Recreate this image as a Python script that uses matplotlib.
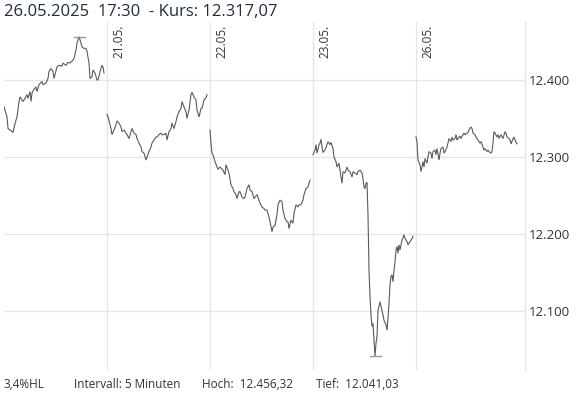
import matplotlib
matplotlib.use("Agg")
import matplotlib.pyplot as plt
import matplotlib.transforms as mtransforms
from matplotlib.ticker import FuncFormatter, FixedLocator

plt.rcParams['font.family'] = ['Open Sans', 'DejaVu Sans']

# ---------------- data ----------------
day_labels = ["20.05.", "21.05.", "22.05.", "23.05.", "26.05."]

idx_d1 = [0,3,4,6,9,10,12,13,15,16,19,21,23,24,26,27,28,30,32,33,35,38,39,42,44,45,47,49,50,53,
          55,58,59,62,64,66,69,70,72,73,75,77,78,80,82,83,85,86,88,89,91,93,94,96,98,99,100]
val_d1 = [12365,12352,12337,12335,12332,12338,12348,12352,12372,12378,
          12372,12376,12381,12376,12385,12372,12383,12388,12391,12385,
          12394,12398,12394,12396,12402,12411,12415,12411,12402,12417,
          12419,12418,12422,12419,12423,12422,12426,12428,12439,12448,
          12456.32,12448,12443,12441,12441,12437,12422,12402,12404,12413,
          12409,12400,12400,12411,12419,12417,12409]

idx_d2 = [0,1,3,4,5,7,9,10,12,14,15,17,19,20,22,24,25,27,29,30,32,34,35,37,39,40,42,44,45,47,
          49,50,52,54,55,57,59,60,62,64,65,67,69,70,72,74,75,77,79,80,82,84,85,87,89,90,92,94,95,97,
          99,100]
val_d2 = [12355.5,12352,12342,12337,12329,12335,12342,12347,12344,12339,
          12333,12335,12331,12329,12324,12333,12337,12331,12329,12324,
          12318,12313,12307,12305,12296,12300,12307,12313,12318,12322,
          12326,12326,12329,12331,12329,12329,12331,12322,12333,12337,
          12344,12337,12346,12352,12359,12363,12372,12365,12359,12350,
          12361,12381,12384,12378,12374,12361,12352,12363,12363,12374,
          12377,12381]

idx_d3 = [0,1,2,3,5,7,8,10,12,13,15,16,18,19,21,23,24,26,27,29,30,32,34,35,37,39,40,42,44,45,
          47,49,50,52,54,55,57,59,60,62,63,65,67,68,70,72,73,75,77,78,79,81,83,84,86,88,89,91,93,94,
          96,98,99,100]
val_d3 = [12335,12318,12305,12303,12294,12287,12284,12287,12284,12283,
          12277,12290,12283,12279,12264,12259,12255,12251,12246,12255,
          12255,12248,12246,12248,12259,12264,12257,12255,12246,12248,
          12251,12244,12240,12235,12233,12231,12231,12222,12216,12203,
          12209,12211,12225,12238,12244,12242,12231,12220,12216,12216,
          12207,12218,12214,12227,12238,12235,12238,12238,12244,12251,
          12259,12261,12266,12270]

idx_d4 = [0,2,3,4,6,7,8,9,10,12,14,15,17,18,20,21,23,24,26,28,29,30,32,34,35,37,39,40,42,44,
          45,47,49,50,51,52,53,54,55,56,57,58,59,60,61,62,63,64,65,66,67,68,70,71,73,74,75,76,77,78,
          79,80,81,82,83,84,85,86,87,88,89,91,92,94,95,97,99,100]
val_d4 = [12303,12309,12316,12305,12316,12318,12323,12313,12306,12309,
          12316,12320,12316,12319,12311,12300,12294,12287,12292,12274,
          12266,12281,12279,12287,12283,12281,12274,12281,12279,12277,
          12281,12283,12279,12272,12261,12259,12266,12267,12225,12153,
          12119,12095,12080,12084,12062,12041.03,12058,12067,12101,12106,
          12112,12106,12095,12088,12082,12075,12091,12110,12134,12145,
          12147,12138,12153,12164,12179,12184,12175,12186,12179,12186,
          12192,12199,12194,12190,12186,12190,12194,12197]

idx_d5 = [0,1,2,4,5,7,8,9,11,12,13,15,16,17,19,20,21,23,24,25,27,28,29,31,32,33,35,36,37,39,
          40,41,43,44,45,47,48,49,51,52,53,55,56,57,59,60,61,63,64,65,67,68,69,71,72,73,75,76,77,78,
          79,81,82,83,85,86,87,89,90,91,93,94,95,97,98,99,101]
val_d5 = [12326,12320,12296,12290,12281,12294,12287,12298,12292,12300,
          12307,12305,12298,12307,12309,12303,12311,12296,12305,12311,
          12313,12305,12307,12313,12318,12324,12320,12326,12322,12324,
          12329,12322,12326,12327,12324,12329,12331,12329,12331,12332,
          12335,12339,12337,12331,12329,12326,12324,12320,12318,12320,
          12313,12309,12311,12307,12309,12307,12305,12307,12318,12333,
          12331,12326,12329,12324,12329,12326,12324,12333,12331,12326,
          12324,12322,12317,12324,12326,12322,12317.07]

days_idx = [idx_d1, idx_d2, idx_d3, idx_d4, idx_d5]
days_val = [val_d1, val_d2, val_d3, val_d4, val_d5]

y_ticks = [12100, 12200, 12300, 12400]
title_text = "26.05.2025  17:30  - Kurs: 12.317,07"
footer = ["3,4%HL", "Intervall: 5 Minuten", "Hoch:  12.456,32", "Tief:  12.041,03"]

# ---------------- layout ----------------
W, H = 585, 393
DAY_SLOT = 103
fig = plt.figure(figsize=(W / 100, H / 100), dpi=100)
ax = fig.add_axes([4 / W, 1 - 370 / H, 521 / W, 348 / H])

grid_c = '#e6e6e6'
line_c = '#555b61'

for d, (ix, vals) in enumerate(zip(days_idx, days_val)):
    xs = [d * DAY_SLOT + i for i in ix]
    ax.plot(xs, vals, color=line_c, lw=0.8, solid_joinstyle='miter')

# max / min markers
all_pts = [(d * DAY_SLOT + i, v) for d, (ix, vals) in enumerate(zip(days_idx, days_val)) for i, v in zip(ix, vals)]
xmax, vmax = max(all_pts, key=lambda p: p[1])
xmin, vmin = min(all_pts, key=lambda p: p[1])
ax.plot([xmax - 5.5, xmax + 5.5], [vmax, vmax], color='#999999', lw=1)
ax.plot([xmin - 5.5, xmin + 5.5], [vmin, vmin], color='#999999', lw=1)

ax.set_xlim(0, 521)
ax.set_ylim(12023.4, 12475.3)

# day separators and labels
trans = mtransforms.blended_transform_factory(ax.transData, ax.transAxes)
for d in range(1, len(day_labels)):
    ax.axvline(d * DAY_SLOT, color=grid_c, lw=1, zorder=0)
    ax.text(d * DAY_SLOT + 5, 1 - 3 / 348, day_labels[d], rotation=90, ha='left', va='top',
            transform=trans, fontsize=8.5, color='#333333')

ax.yaxis.set_major_locator(FixedLocator(y_ticks))
ax.yaxis.set_major_formatter(FuncFormatter(lambda v, p: f"{v:,.0f}".replace(',', '.')))
ax.yaxis.tick_right()
ax.tick_params(axis='y', length=0, pad=3, labelsize=9.5, labelcolor='#333333')
ax.set_xticks([])
ax.grid(axis='y', color=grid_c, lw=1)
ax.set_axisbelow(True)
for s in ['top', 'left', 'bottom']:
    ax.spines[s].set_visible(False)
ax.spines['right'].set_color(grid_c)
ax.spines['right'].set_linewidth(1)

fig.text(4 / W, 1 - 12 / H, title_text, fontsize=12, color='#1f2d3d', va='center', ha='left')
for xpx, t in zip([4, 74, 202, 316], footer):
    fig.text(xpx / W, 1 - 384 / H, t, fontsize=8.5, color='#333333', va='center', ha='left')

fig.savefig("out.png", dpi=100)
